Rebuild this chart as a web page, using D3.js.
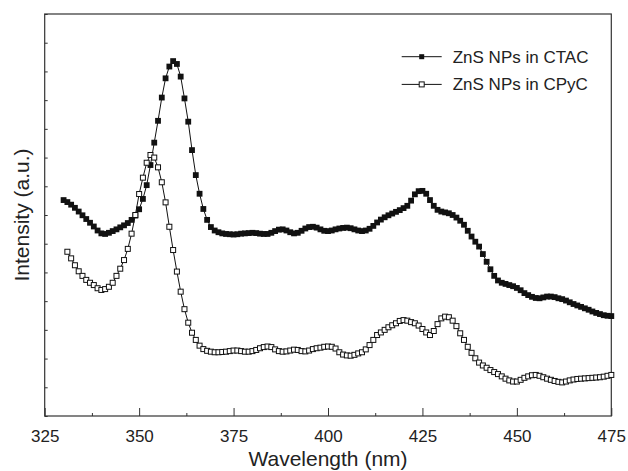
<!DOCTYPE html>
<html>
<head>
<meta charset="utf-8">
<script src="https://cdn.jsdelivr.net/npm/d3@7"></script>
<style>
  body { margin: 0; background: #fff; }
  svg { display: block; font-family: "Liberation Sans", Arial, sans-serif; }
  .axis path, .axis line { stroke: #333; }
  .axis text { font-size: 17px; fill: #222; }
</style>
</head>
<body>
<div id="chart"></div>
<script>
// wavelengths, 1 nm steps
var ctacStart = 330, cpycStart = 331, lastNm = 475;
var xTicks = [325, 350, 375, 400, 425, 450, 475];

// ZnS NPs in CTAC (filled squares), 330..475 nm
var ctac = [
  7.52, 7.45, 7.36, 7.25, 7.12, 6.99, 6.86, 6.73, 6.60, 6.46,
  6.36, 6.34, 6.38, 6.44, 6.50, 6.57, 6.64, 6.72, 6.83, 6.98,
  7.20, 7.56, 8.04, 8.74, 9.52, 10.28, 11.09, 11.76, 12.17, 12.36,
  12.26, 11.82, 11.06, 10.25, 9.26, 8.39, 7.74, 7.21, 6.83, 6.58,
  6.46, 6.40, 6.36, 6.34, 6.33, 6.32, 6.33, 6.35, 6.36, 6.37,
  6.38, 6.37, 6.35, 6.34, 6.34, 6.38, 6.44, 6.49, 6.50, 6.46,
  6.40, 6.36, 6.38, 6.45, 6.53, 6.58, 6.59, 6.56, 6.50, 6.45,
  6.44, 6.46, 6.50, 6.53, 6.55, 6.56, 6.54, 6.50, 6.46, 6.44,
  6.46, 6.52, 6.62, 6.74, 6.84, 6.92, 6.99, 7.05, 7.11, 7.17,
  7.24, 7.32, 7.50, 7.72, 7.83, 7.84, 7.74, 7.52, 7.32, 7.18,
  7.12, 7.09, 7.06, 7.00, 6.91, 6.80, 6.66, 6.45, 6.25, 6.07,
  5.90, 5.64, 5.37, 5.11, 4.88, 4.72, 4.64, 4.60, 4.56, 4.52,
  4.46, 4.38, 4.28, 4.21, 4.15, 4.11, 4.10, 4.13, 4.16, 4.16,
  4.14, 4.10, 4.07, 4.02, 3.96, 3.90, 3.85, 3.80, 3.75, 3.70,
  3.64, 3.59, 3.55, 3.51, 3.49, 3.48
];

// ZnS NPs in CPyC (open squares), 331..475 nm
var cpyc = [
  5.72, 5.49, 5.25, 5.04, 4.88, 4.74, 4.64, 4.56, 4.45,
  4.39, 4.42, 4.50, 4.64, 4.88, 5.13, 5.43, 5.82, 6.35, 7.00,
  7.73, 8.30, 8.82, 9.09, 9.00, 8.66, 8.14, 7.44, 6.59, 5.78,
  5.03, 4.33, 3.72, 3.25, 2.90, 2.65, 2.45, 2.33, 2.27, 2.24,
  2.22, 2.22, 2.23, 2.24, 2.26, 2.28, 2.28, 2.26, 2.24, 2.24,
  2.26, 2.30, 2.36, 2.40, 2.42, 2.40, 2.32, 2.26, 2.24, 2.25,
  2.28, 2.31, 2.30, 2.26, 2.25, 2.28, 2.33, 2.36, 2.38, 2.41,
  2.42, 2.41, 2.35, 2.22, 2.14, 2.11, 2.10, 2.13, 2.18, 2.22,
  2.32, 2.47, 2.65, 2.82, 2.91, 3.00, 3.09, 3.16, 3.23, 3.31,
  3.34, 3.32, 3.27, 3.23, 3.15, 3.03, 2.91, 2.82, 2.96, 3.20,
  3.40, 3.46, 3.44, 3.32, 3.13, 2.88, 2.65, 2.41, 2.20, 2.01,
  1.86, 1.76, 1.68, 1.60, 1.53, 1.46, 1.38, 1.30, 1.24, 1.20,
  1.20, 1.26, 1.33, 1.38, 1.42, 1.43, 1.40, 1.35, 1.30, 1.26,
  1.22, 1.19, 1.17, 1.20, 1.24, 1.27, 1.29, 1.30, 1.31, 1.32,
  1.33, 1.34, 1.35, 1.37, 1.40, 1.43
];

var seriesNames = ['ZnS NPs in CTAC', 'ZnS NPs in CPyC'];

var margin = { top: 14, left: 44.7, bottom: 55, right: 16.7 },
  width = 628 - margin.left - margin.right,
  height = 471 - margin.top - margin.bottom;

var svg = d3.select('#chart').append('svg')
  .attr('width', 628)
  .attr('height', 471)
  .append('g')
  .attr('transform', 'translate(' + margin.left + ',' + margin.top + ')');

var x = d3.scaleLinear().domain([325, 475]).range([0, width]);
var y = d3.scaleLinear().domain([0, 14]).range([height, 0]);

var ctacData = ctac.map((v, i) => ({ nm: ctacStart + i, v: v }));
var cpycData = cpyc.map((v, i) => ({ nm: cpycStart + i, v: v }));

// minor ticks on x
svg.append('g')
  .attr('class', 'axis')
  .attr('transform', 'translate(0,' + height + ')')
  .call(d3.axisBottom(x).tickValues(d3.range(337.5, 475, 25)).tickSize(-3).tickFormat(''))
  .call(g => g.select('.domain').remove());

// major ticks on x
svg.append('g')
  .attr('class', 'axis')
  .attr('transform', 'translate(0,' + height + ')')
  .call(d3.axisBottom(x).tickValues(xTicks).tickSize(-8).tickPadding(14).tickFormat(d3.format('d')))
  .call(g => g.select('.domain').remove());

svg.append('g')
  .attr('class', 'axis')
  .call(d3.axisLeft(y).ticks(14).tickSize(-3).tickFormat(''))
  .call(g => g.select('.domain').remove());

// frame
svg.append('rect')
  .attr('width', width)
  .attr('height', height)
  .attr('fill', 'none')
  .attr('stroke', '#333')
  .attr('stroke-width', 1.2);

var line = d3.line().x(d => x(d.nm)).y(d => y(d.v));

svg.append('path').datum(ctacData)
  .attr('d', line).attr('fill', 'none').attr('stroke', '#111').attr('stroke-width', 1);
svg.append('path').datum(cpycData)
  .attr('d', line).attr('fill', 'none').attr('stroke', '#111').attr('stroke-width', 1);

var s = 5.8;
svg.selectAll('.ctac')
  .data(ctacData)
  .enter().append('rect')
  .attr('class', 'ctac')
  .attr('x', d => x(d.nm) - s / 2)
  .attr('y', d => y(d.v) - s / 2)
  .attr('width', s).attr('height', s)
  .attr('fill', '#111');

var so = 5;
svg.selectAll('.cpyc')
  .data(cpycData)
  .enter().append('rect')
  .attr('class', 'cpyc')
  .attr('x', d => x(d.nm) - so / 2)
  .attr('y', d => y(d.v) - so / 2)
  .attr('width', so).attr('height', so)
  .attr('fill', '#fff')
  .attr('stroke', '#111')
  .attr('stroke-width', 1);

// legend
var legend = svg.append('g')
  .attr('transform', 'translate(' + (401.7 - margin.left) + ',' + (56.7 - margin.top) + ')');
seriesNames.forEach((name, i) => {
  var g = legend.append('g').attr('transform', 'translate(0,' + (i * 27.7) + ')');
  g.append('line').attr('x1', 0).attr('x2', 40).attr('y1', 0).attr('y2', 0)
    .attr('stroke', '#111').attr('stroke-width', 1);
  g.append('rect').attr('x', 17.5).attr('y', -2.5).attr('width', 5).attr('height', 5)
    .attr('fill', i === 0 ? '#111' : '#fff').attr('stroke', '#111').attr('stroke-width', i === 0 ? 0 : 1);
  g.append('text').attr('x', 51).attr('y', 0).attr('dy', '0.35em')
    .style('font-size', '17px').style('fill', '#222').text(name);
});

svg.append('text')
  .attr('x', width / 2)
  .attr('y', height + 50)
  .attr('text-anchor', 'middle')
  .style('font-size', '21px')
  .style('fill', '#222')
  .text('Wavelength (nm)');

svg.append('text')
  .attr('transform', 'rotate(-90)')
  .attr('x', -height / 2)
  .attr('y', -margin.left + 29)
  .attr('text-anchor', 'middle')
  .style('font-size', '21px')
  .style('fill', '#222')
  .text('Intensity (a.u.)');
</script>
</body>
</html>
